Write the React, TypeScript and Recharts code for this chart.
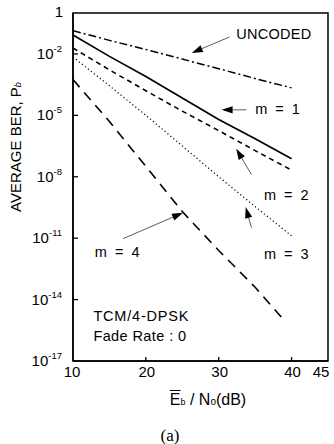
import React from "react";
import {
  LineChart,
  Line,
  XAxis,
  YAxis,
  ReferenceArea,
  ReferenceLine,
  ReferenceDot,
} from "recharts";

// Eb/No (dB) sample points
const snr = [10, 15, 20, 25, 30, 35, 40];
const snrM4 = [10, 15, 20, 25, 30, 35, 39.2];

// average BER
const uncoded = [1.38e-1, 4.6e-2, 1.66e-2, 5.6e-3, 1.9e-3, 6.3e-4, 2.2e-4];
const m1 = [8.5e-2, 7.6e-3, 7.9e-4, 7.1e-5, 6.3e-6, 7.1e-7, 7.6e-8];
const m2 = [1.95e-2, 1.66e-3, 1.6e-4, 1.6e-5, 1.8e-6, 1.9e-7, 2.1e-8];
const m3 = [7.1e-3, 2.8e-4, 1e-5, 3.2e-7, 1e-8, 3.5e-10, 1.3e-11];
const m4 = [5.6e-4, 5e-6, 3.2e-8, 2e-10, 2.5e-12, 4e-14, 8e-16];

const xTicks = [10, 20, 30, 40, 45];
const yTicks = [1, 1e-2, 1e-5, 1e-8, 1e-11, 1e-14, 1e-17];

const toRows = (xs: number[], ys: number[]) => xs.map((x, i) => ({ x, y: ys[i] }));

const series = [
  { name: "uncoded", rows: toRows(snr, uncoded), dash: "8 3 2 3", width: 1.5 },
  { name: "m1", rows: toRows(snr, m1), dash: undefined, width: 1.7 },
  { name: "m2", rows: toRows(snr, m2), dash: "5 4", width: 1.6 },
  { name: "m3", rows: toRows(snr, m3), dash: "1.2 2.6", width: 1.2 },
  { name: "m4", rows: toRows(snrM4, m4), dash: "10 7", width: 1.6 },
];

// annotation arrows: tail -> tip, in data coords
const arrows = [
  { from: [31.5, 10 ** -1.17], to: [26.3, 10 ** -1.95] },
  { from: [33.8, 10 ** -4.73], to: [30.4, 10 ** -4.73] },
  { from: [34.5, 10 ** -7.9], to: [32.4, 10 ** -6.63] },
  { from: [34.5, 10 ** -10.49], to: [33.7, 10 ** -9.48] },
  { from: [16.9, 10 ** -11.02], to: [25.1, 10 ** -9.76] },
];

const notes = [
  { text: "UNCODED", x: 32.4, y: 10 ** -1.29, ws: 0, ls: 0.3 },
  { text: "m = 1", x: 35.0, y: 10 ** -4.95, ws: 4, ls: 0 },
  { text: "m = 2", x: 36.2, y: 10 ** -9.15, ws: 4, ls: 0 },
  { text: "m = 3", x: 36.2, y: 10 ** -12.02, ws: 4, ls: 0 },
  { text: "m = 4", x: 13.0, y: 10 ** -11.93, ws: 4, ls: 0 },
  { text: "TCM/4-DPSK", x: 12.8, y: 10 ** -15.05, ws: 0, ls: 0.8 },
  { text: "Fade Rate : 0", x: 12.8, y: 10 ** -16.02, ws: 0, ls: 0.4 },
];

const font = "'Liberation Sans', Arial, sans-serif";

function ArrowShape(props: any) {
  const { x1, y1, x2, y2 } = props;
  const dx = x2 - x1;
  const dy = y2 - y1;
  const len = Math.sqrt(dx * dx + dy * dy) || 1;
  const ux = dx / len;
  const uy = dy / len;
  const hl = 11;
  const hw = 3.6;
  const bx = x2 - ux * hl;
  const by = y2 - uy * hl;
  const pts = `${x2},${y2} ${bx - uy * hw},${by + ux * hw} ${bx + uy * hw},${by - ux * hw}`;
  return (
    <g>
      <line x1={x1} y1={y1} x2={bx} y2={by} stroke="#333" strokeWidth={0.8} />
      <polygon points={pts} fill="#000" />
    </g>
  );
}

function XTick(props: any) {
  const { x, y, payload } = props;
  const v = payload.value;
  const dx = v === 45 ? -5 : v === 10 ? -1 : 1;
  return (
    <g>
      {v !== 10 && v !== 45 && <line x1={x} y1={y} x2={x} y2={y - 4} stroke="#000" strokeWidth={1.3} />}
      <text x={x + dx} y={y + 16} textAnchor="middle" fontSize={15} fontFamily={font} fill="#000">
        {v}
      </text>
    </g>
  );
}

function YTick(props: any) {
  const { x, y, payload } = props;
  const v = payload.value;
  const exp = Math.round(Math.log10(v));
  return (
    <g>
      {exp !== 0 && exp !== -17 && <line x1={x} y1={y} x2={x + 5} y2={y} stroke="#000" strokeWidth={1.3} />}
      {exp === 0 ? (
        <text x={x - 10} y={y + 4} textAnchor="end" fontSize={15} fontFamily={font} fill="#000">
          1
        </text>
      ) : (
        <text x={x - 11} y={y + 5} textAnchor="end" fontFamily={font} fill="#000">
          <tspan fontSize={15}>10</tspan>
          <tspan fontSize={9.5} dy={-7}>{exp}</tspan>
        </text>
      )}
    </g>
  );
}

function Note(n: { text: string; ws: number; ls: number }) {
  return (props: any) => (
    <text
      x={props.cx}
      y={props.cy}
      fontSize={14.5}
      fontFamily={font}
      fill="#000"
      wordSpacing={n.ws}
      letterSpacing={n.ls}
    >
      {n.text}
    </text>
  );
}

export default function App() {
  return (
    <div style={{ position: "absolute", left: 0, top: 0, width: 334, height: 444, background: "#fff", fontFamily: font }}>
      <LineChart width={334} height={444} margin={{ top: 13, right: 6, bottom: 53, left: 0 }}>
        <XAxis
          type="number"
          dataKey="x"
          domain={[10, 45]}
          ticks={xTicks}
          allowDataOverflow
          height={30}
          tickSize={0}
          tickMargin={0}
          tickLine={false}
          tick={<XTick />}
          axisLine={{ stroke: "#000", strokeWidth: 1.5 }}
        />
        <YAxis
          type="number"
          dataKey="y"
          scale="log"
          domain={[1e-17, 1]}
          ticks={yTicks}
          allowDataOverflow
          width={73}
          tickSize={0}
          tickMargin={0}
          tickLine={false}
          tick={<YTick />}
          axisLine={{ stroke: "#000", strokeWidth: 1.5 }}
        />
        <ReferenceArea x1={10} x2={45} y1={1e-17} y2={1} fill="none" stroke="#000" strokeWidth={1.5} />
        {series.map((s) => (
          <Line
            key={s.name}
            data={s.rows}
            dataKey="y"
            type="linear"
            stroke="#000"
            strokeWidth={s.width}
            strokeDasharray={s.dash}
            dot={false}
            isAnimationActive={false}
          />
        ))}
        {arrows.map((a, i) => (
          <ReferenceLine
            key={"a" + i}
            segment={[
              { x: a.from[0], y: a.from[1] },
              { x: a.to[0], y: a.to[1] },
            ]}
            shape={ArrowShape}
          />
        ))}
        {notes.map((n, i) => (
          <ReferenceDot key={"n" + i} x={n.x} y={n.y} r={0} shape={Note(n)} />
        ))}
      </LineChart>
      <div
        style={{
          position: "absolute",
          left: 15,
          top: 147,
          transform: "translate(-50%, -50%) rotate(-90deg)",
          whiteSpace: "nowrap",
          fontSize: 15,
        }}
      >
        AVERAGE BER, P<span style={{ fontSize: 9, fontStyle: "italic" }}>b</span>
      </div>
      <div
        style={{
          position: "absolute",
          left: 208,
          top: 400,
          transform: "translate(-50%, -50%)",
          whiteSpace: "nowrap",
          fontSize: 16,
        }}
      >
        <span style={{ textDecoration: "overline" }}>E</span>
        <span style={{ fontSize: 9 }}>b</span> / N<span style={{ fontSize: 10 }}>o</span>(dB)
      </div>
      <div
        style={{
          position: "absolute",
          left: 170,
          top: 436,
          transform: "translate(-50%, -50%)",
          fontFamily: "'Liberation Serif', serif",
          fontSize: 17,
        }}
      >
        (a)
      </div>
    </div>
  );
}
